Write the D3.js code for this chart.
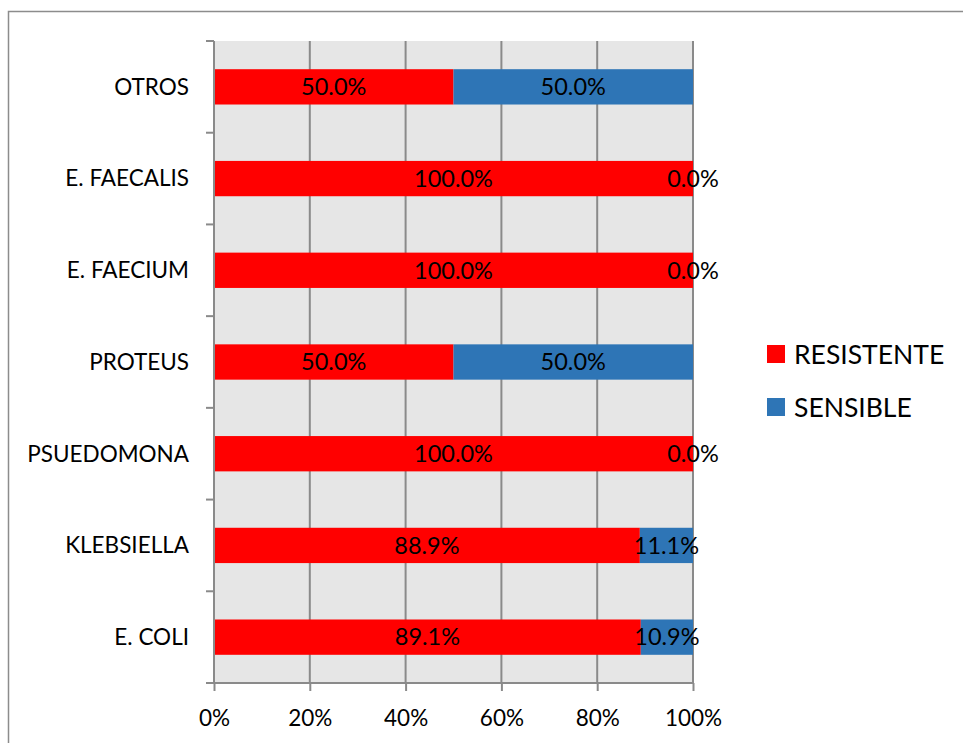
<!DOCTYPE html>
<html>
<head>
<meta charset="utf-8">
<script src="https://cdn.jsdelivr.net/npm/d3@7"></script>
<style>
  html, body { margin: 0; padding: 0; background: #fff; }
  svg { display: block; }
  text { font-family: Lato, "Open Sans", sans-serif; fill: #000; }
</style>
</head>
<body>
<script>
// Susceptibility by organism (percent of isolates), bottom-to-top as drawn
const categories = ["E. COLI", "KLEBSIELLA", "PSUEDOMONA", "PROTEUS", "E. FAECIUM", "E. FAECALIS", "OTROS"];
const resistente = [89.1, 88.9, 100.0, 50.0, 100.0, 100.0, 50.0];
const sensible   = [10.9, 11.1, 0.0, 50.0, 0.0, 0.0, 50.0];
const seriesNames = ["RESISTENTE", "SENSIBLE"];
const seriesColors = ["#ff0000", "#2e75b6"];
const xTicks = [0, 20, 40, 60, 80, 100];

const W = 963, H = 743;
const plot = { left: 214, right: 693, top: 41, bottom: 683 };

const svg = d3.select("body").append("svg").attr("width", W).attr("height", H);

// Outer chart frame
svg.append("rect")
  .attr("x", 8.5).attr("y", 11.5).attr("width", 1000).attr("height", 1000)
  .attr("fill", "#fff").attr("stroke", "#8c8c8c").attr("stroke-width", 1.5);

const x = d3.scaleLinear().domain([0, 100]).range([plot.left, plot.right]);
const y = d3.scaleBand().domain(categories.slice().reverse())
  .range([plot.top, plot.bottom]).paddingInner(0.615).paddingOuter(0.3075);

// Plot background
svg.append("rect")
  .attr("x", plot.left).attr("y", plot.top)
  .attr("width", plot.right - plot.left).attr("height", plot.bottom - plot.top)
  .attr("fill", "#e6e6e6");

// Vertical gridlines
svg.append("g").selectAll("line").data(xTicks.slice(1)).join("line")
  .attr("x1", d => x(d)).attr("x2", d => x(d))
  .attr("y1", plot.top).attr("y2", plot.bottom)
  .attr("stroke", "#8a8a8a").attr("stroke-width", 2);

// Stacked bars
const rows = categories.map((c, i) => ({ cat: c, vals: [resistente[i], sensible[i]] }));
const segs = [];
rows.forEach(r => {
  let acc = 0;
  r.vals.forEach((v, k) => { segs.push({ cat: r.cat, k, x0: acc, x1: acc + v, v }); acc += v; });
});

svg.append("g").selectAll("rect").data(segs).join("rect")
  .attr("x", d => x(d.x0)).attr("width", d => x(d.x1) - x(d.x0))
  .attr("y", d => y(d.cat)).attr("height", y.bandwidth())
  .attr("fill", d => seriesColors[d.k]);

// Value labels
svg.append("g").selectAll("text").data(segs).join("text")
  .attr("x", d => x((d.x0 + d.x1) / 2))
  .attr("y", d => y(d.cat) + y.bandwidth() / 2)
  .attr("dy", "0.35em")
  .attr("text-anchor", "middle")
  .style("font-size", "23.5px")
  .text(d => d.v.toFixed(1) + "%");

// Left axis (category)
const yAxisBoundaries = d3.range(categories.length + 1).map(i => plot.top + i * (plot.bottom - plot.top) / categories.length);
const gy = svg.append("g");
gy.append("line").attr("x1", plot.left).attr("x2", plot.left)
  .attr("y1", plot.top).attr("y2", plot.bottom)
  .attr("stroke", "#8a8a8a").attr("stroke-width", 2);
gy.selectAll("line.tick").data(yAxisBoundaries).join("line").attr("class", "tick")
  .attr("x1", plot.left - 8).attr("x2", plot.left)
  .attr("y1", d => d).attr("y2", d => d)
  .attr("stroke", "#8a8a8a").attr("stroke-width", 2);
gy.selectAll("text").data(categories).join("text")
  .attr("x", 189)
  .attr("y", d => y(d) + y.bandwidth() / 2)
  .attr("dy", "0.35em")
  .attr("text-anchor", "end")
  .style("font-size", "22.5px")
  .text(d => d);

// Bottom axis
const xAxis = d3.axisBottom(x).tickValues(xTicks).tickFormat(d => d + "%").tickSize(8).tickSizeOuter(0);
const gx = svg.append("g").attr("transform", `translate(0,${plot.bottom})`).call(xAxis);
gx.select(".domain").remove();
gx.append("line").attr("x1", plot.left - 8).attr("x2", plot.right)
  .attr("stroke", "#8a8a8a").attr("stroke-width", 2);
gx.selectAll(".tick line").attr("stroke", "#8a8a8a").attr("stroke-width", 2);
gx.selectAll(".tick text")
  .attr("y", 27).attr("dy", "0.71em")
  .style("font-size", "22.5px").style("font-family", "Lato, sans-serif").attr("fill", "#000");

// Legend
const legend = svg.append("g");
seriesNames.forEach((name, i) => {
  const ly = 354 + i * 53;
  legend.append("rect").attr("x", 767).attr("y", ly - 9).attr("width", 18).attr("height", 18)
    .attr("fill", seriesColors[i]);
  legend.append("text").attr("x", 794).attr("y", ly).attr("dy", "0.36em")
    .style("font-size", "26.5px").text(name);
});
</script>
</body>
</html>
